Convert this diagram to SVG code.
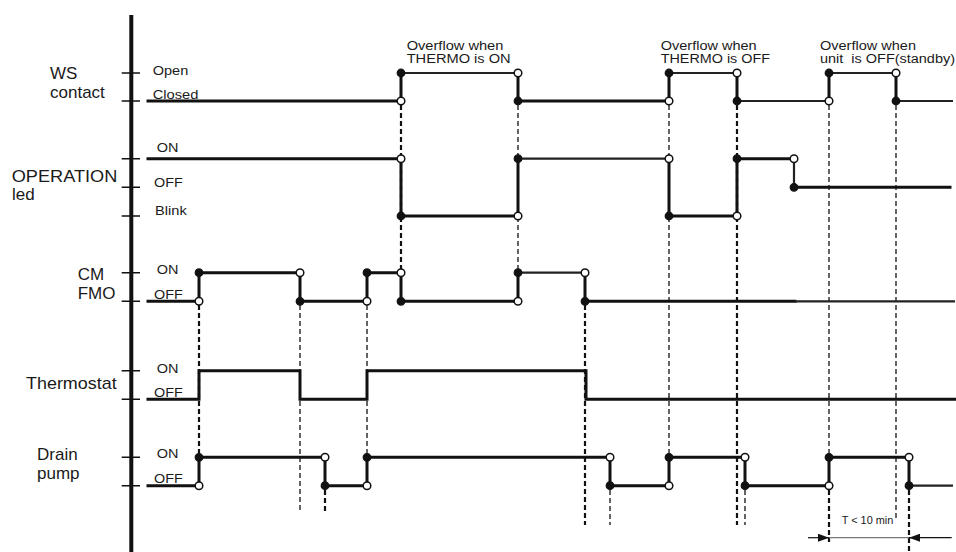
<svg xmlns="http://www.w3.org/2000/svg" width="956" height="552" viewBox="0 0 956 552">
<style>
text{font-family:"Liberation Sans",Arial,sans-serif;fill:#1a1a1a}
.big{font-size:17px}
.sm{font-size:12.5px}
.ann{font-size:12px}
.dim{font-size:10px}
.sig{fill:none;stroke:#111;stroke-width:3;stroke-linejoin:miter;stroke-linecap:square}
.sigt{fill:none;stroke:#222;stroke-width:2.2}
.tick{stroke:#111;stroke-width:1.4}
.d1{fill:none;stroke:#111;stroke-width:1.3;stroke-dasharray:5 3}
.d2{fill:none;stroke:#111;stroke-width:2.2;stroke-dasharray:5 3}
.f{fill:#111;stroke:#111;stroke-width:1.2}
.h{fill:#fff;stroke:#111;stroke-width:1.5}
</style>
<defs>
<marker id="ah" viewBox="0 0 11 8" refX="11" refY="4" markerWidth="11" markerHeight="8" markerUnits="userSpaceOnUse" orient="auto">
<path d="M0,0 L11,4 L0,8 Z" fill="#111"/>
</marker>
</defs>

<g id="axis">
<line x1="131.3" y1="15" x2="131.3" y2="552" stroke="#111" stroke-width="4"/>
<path class="tick" d="M121.7,73H140M121.7,101H140M121.7,158.7H140M121.7,187.3H140M121.7,216H140M121.7,272.7H140M121.7,301.3H140M121.7,370.7H140M121.7,399.3H140M121.7,457.3H140M121.7,485.7H140"/>
</g>

<g id="connectors">
<line class="d2" x1="199" y1="305" x2="199" y2="453"/>
<line class="d1" x1="300" y1="305" x2="300" y2="513"/>
<line class="d1" x1="367" y1="305" x2="367" y2="453"/>
<line class="d2" x1="325" y1="490" x2="325" y2="512"/>
<line class="d2" x1="401" y1="105" x2="401" y2="269"/>
<line class="d1" x1="518" y1="105" x2="518" y2="269"/>
<line class="d2" x1="585" y1="305" x2="585" y2="525"/>
<line class="d1" x1="610" y1="490" x2="610" y2="525"/>
<line class="d1" x1="669" y1="105" x2="669" y2="453"/>
<line class="d2" x1="737" y1="105" x2="737" y2="525"/>
<line class="d1" x1="745" y1="490" x2="745" y2="525"/>
<line class="d1" x1="829" y1="105" x2="829" y2="453"/>
<line class="d2" x1="829" y1="490" x2="829" y2="542"/>
<line class="d1" x1="896" y1="105" x2="896" y2="520"/>
<line class="d2" x1="909" y1="490" x2="909" y2="552"/>
</g>

<g id="ws-contact">
<text class="big" x="50" y="79">WS</text>
<text class="big" x="50" y="98">contact</text>
<text class="sm" x="152.7" y="74.5" textLength="35.6" lengthAdjust="spacingAndGlyphs">Open</text>
<text class="sm" x="152.7" y="99" textLength="45.7" lengthAdjust="spacingAndGlyphs">Closed</text>
<path class="sig" d="M148,101H401V73M518,73V101H669V73M737,73V101M829,101V73M896,73V101"/>
<path class="sigt" d="M401,73H518M669,73H737M737,101H829M829,73H896M896,101H953"/>
<circle class="h" cx="401" cy="101" r="3.8"/><circle class="f" cx="401" cy="73" r="3.8"/>
<circle class="h" cx="518" cy="73" r="3.8"/><circle class="f" cx="518" cy="101" r="3.8"/>
<circle class="h" cx="669" cy="101" r="3.8"/><circle class="f" cx="669" cy="73" r="3.8"/>
<circle class="h" cx="737" cy="73" r="3.8"/><circle class="f" cx="737" cy="101" r="3.8"/>
<circle class="h" cx="829" cy="101" r="3.8"/><circle class="f" cx="829" cy="73" r="3.8"/>
<circle class="h" cx="896" cy="73" r="3.8"/><circle class="f" cx="896" cy="101" r="3.8"/>
</g>

<g id="operation-led">
<text class="big" x="11.7" y="181.7" textLength="105.6" lengthAdjust="spacingAndGlyphs">OPERATION</text>
<text class="big" x="12" y="200">led</text>
<text class="sm" x="156.7" y="151.7" textLength="21.7" lengthAdjust="spacingAndGlyphs">ON</text>
<text class="sm" x="154" y="187" textLength="28.7" lengthAdjust="spacingAndGlyphs">OFF</text>
<text class="sm" x="155" y="215" textLength="31.7" lengthAdjust="spacingAndGlyphs">Blink</text>
<path class="sig" d="M148,158.7H401V216H518V158.7M669,158.7V216H737V158.7H794M794,187.3H950"/>
<path class="sigt" d="M518,158.7H669M794,158.7V187.3"/>
<circle class="h" cx="401" cy="158.7" r="3.8"/><circle class="f" cx="401" cy="216" r="3.8"/>
<circle class="h" cx="518" cy="216" r="3.8"/><circle class="f" cx="518" cy="158.7" r="3.8"/>
<circle class="h" cx="669" cy="158.7" r="3.8"/><circle class="f" cx="669" cy="216" r="3.8"/>
<circle class="h" cx="737" cy="216" r="3.8"/><circle class="f" cx="737" cy="158.7" r="3.8"/>
<circle class="h" cx="794" cy="158.7" r="3.8"/><circle class="f" cx="794" cy="187.3" r="3.8"/>
</g>

<g id="cm-fmo">
<text class="big" x="77.7" y="280">CM</text>
<text class="big" x="77.7" y="299">FMO</text>
<text class="sm" x="156.7" y="273.5" textLength="21.7" lengthAdjust="spacingAndGlyphs">ON</text>
<text class="sm" x="154" y="299" textLength="28.7" lengthAdjust="spacingAndGlyphs">OFF</text>
<path class="sig" d="M148,301.3H199V272.7H300V301.3H367V272.7H401V301.3H518V272.7M585,272.7V301.3H795"/>
<path class="sigt" d="M518,272.7H585M795,301.3H955"/>
<circle class="h" cx="199" cy="301.3" r="3.8"/><circle class="f" cx="199" cy="272.7" r="3.8"/>
<circle class="h" cx="300" cy="272.7" r="3.8"/><circle class="f" cx="300" cy="301.3" r="3.8"/>
<circle class="h" cx="367" cy="301.3" r="3.8"/><circle class="f" cx="367" cy="272.7" r="3.8"/>
<circle class="h" cx="401" cy="272.7" r="3.8"/><circle class="f" cx="401" cy="301.3" r="3.8"/>
<circle class="h" cx="518" cy="301.3" r="3.8"/><circle class="f" cx="518" cy="272.7" r="3.8"/>
<circle class="h" cx="585" cy="272.7" r="3.8"/><circle class="f" cx="585" cy="301.3" r="3.8"/>
</g>

<g id="thermostat">
<text class="big" x="26" y="389" textLength="90.7" lengthAdjust="spacingAndGlyphs">Thermostat</text>
<text class="sm" x="156.7" y="372.5" textLength="21.7" lengthAdjust="spacingAndGlyphs">ON</text>
<text class="sm" x="154" y="396.7" textLength="28.7" lengthAdjust="spacingAndGlyphs">OFF</text>
<path class="sig" d="M148,399.3H199V370.7H300V399.3H367V370.7H586V399.3H956"/>
</g>

<g id="drain-pump">
<text class="big" x="37" y="460">Drain</text>
<text class="big" x="37" y="479">pump</text>
<text class="sm" x="156.7" y="458" textLength="21.7" lengthAdjust="spacingAndGlyphs">ON</text>
<text class="sm" x="154" y="483" textLength="28.7" lengthAdjust="spacingAndGlyphs">OFF</text>
<path class="sig" d="M148,485.7H199V457.3H325V485.7H367V457.3H610V485.7H669V457.3H745V485.7H829V457.3H909V485.7"/>
<path class="sigt" d="M909,485.7H953"/>
<circle class="h" cx="199" cy="485.7" r="3.8"/><circle class="f" cx="199" cy="457.3" r="3.8"/>
<circle class="h" cx="325" cy="457.3" r="3.8"/><circle class="f" cx="325" cy="485.7" r="3.8"/>
<circle class="h" cx="367" cy="485.7" r="3.8"/><circle class="f" cx="367" cy="457.3" r="3.8"/>
<circle class="h" cx="610" cy="457.3" r="3.8"/><circle class="f" cx="610" cy="485.7" r="3.8"/>
<circle class="h" cx="669" cy="485.7" r="3.8"/><circle class="f" cx="669" cy="457.3" r="3.8"/>
<circle class="h" cx="745" cy="457.3" r="3.8"/><circle class="f" cx="745" cy="485.7" r="3.8"/>
<circle class="h" cx="829" cy="485.7" r="3.8"/><circle class="f" cx="829" cy="457.3" r="3.8"/>
<circle class="h" cx="909" cy="457.3" r="3.8"/><circle class="f" cx="909" cy="485.7" r="3.8"/>
</g>

<g id="annotations">
<text class="ann" x="406.7" y="50" textLength="96.7" lengthAdjust="spacingAndGlyphs">Overflow when</text>
<text class="ann" x="406.7" y="63.3" textLength="104" lengthAdjust="spacingAndGlyphs">THERMO is ON</text>
<text class="ann" x="660.7" y="50" textLength="96" lengthAdjust="spacingAndGlyphs">Overflow when</text>
<text class="ann" x="660.7" y="63.3" textLength="109.3" lengthAdjust="spacingAndGlyphs">THERMO is OFF</text>
<text class="ann" x="820" y="50" textLength="96" lengthAdjust="spacingAndGlyphs">Overflow when</text>
<text class="ann" x="820" y="63.3" textLength="135" lengthAdjust="spacingAndGlyphs" xml:space="preserve">unit  is OFF(standby)</text>
</g>

<g id="dimension">
<line x1="808" y1="537.7" x2="829" y2="537.7" stroke="#111" stroke-width="1.2" marker-end="url(#ah)"/>
<line x1="829" y1="537.7" x2="909" y2="537.7" stroke="#777" stroke-width="1.2"/>
<line x1="951.7" y1="537.7" x2="909" y2="537.7" stroke="#111" stroke-width="1.2" marker-end="url(#ah)"/>
<text class="dim" x="841.7" y="524" textLength="51.6" lengthAdjust="spacingAndGlyphs">T &lt; 10 min</text>
</g>
</svg>
